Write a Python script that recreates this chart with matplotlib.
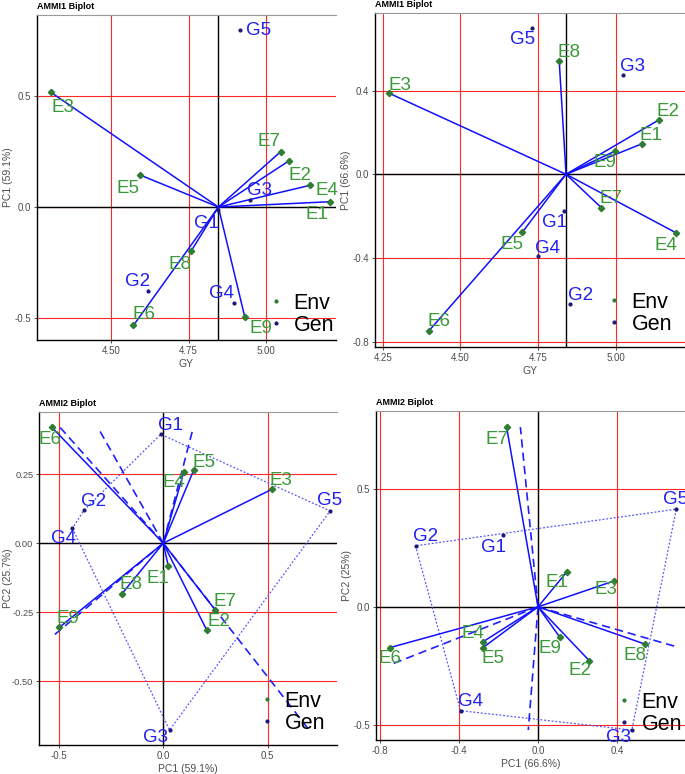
import matplotlib
matplotlib.use("Agg")
import matplotlib.pyplot as plt
import numpy as np
from matplotlib.lines import Line2D

plt.rcParams['font.family'] = ['Liberation Sans', 'DejaVu Sans']
plt.rcParams['axes.unicode_minus'] = False

# ---- data ----
env_names = ['E1', 'E2', 'E3', 'E4', 'E5', 'E6', 'E7', 'E8', 'E9']
gen_names = ['G1', 'G2', 'G3', 'G4', 'G5']

# dataset A (PC1 59.1%, PC2 25.7%)
gy_mean_a = 4.846
gy_a_env = [5.204, 5.072, 4.307, 5.140, 4.594, 4.573, 5.046, 4.758, 4.931]
gy_a_gen = [4.845, 4.620, 4.947, 4.896, 4.917]
pc1_a_env = [0.024, 0.208, 0.519, 0.098, 0.145, -0.535, 0.250, -0.200, -0.498]
pc1_a_gen = [-0.012, -0.380, 0.030, -0.436, 0.800]
pc2_a_env = [-0.083, -0.315, 0.195, 0.257, 0.264, 0.421, -0.243, -0.185, -0.305]
pc2_a_gen = [0.395, 0.120, -0.678, 0.054, 0.117]

# dataset B (PC1 66.6%, PC2 25%)
gy_mean_b = 4.840
gy_b_env = [5.085, 5.139, 4.271, 5.193, 4.699, 4.399, 4.953, 4.818, 4.998]
gy_b_gen = [4.835, 4.852, 5.023, 4.751, 4.731]
pc1_b_env = [0.146, 0.260, 0.387, -0.279, -0.278, -0.748, -0.159, 0.543, 0.111]
pc1_b_gen = [-0.177, -0.620, 0.475, -0.392, 0.700]
pc2_b_env = [0.148, -0.228, 0.110, -0.148, -0.172, -0.172, 0.760, -0.158, -0.129]
pc2_b_gen = [0.303, 0.258, -0.521, -0.439, 0.413]

# label offsets in pixels (dx, dy up)
off1_env = [(-13, -13), (11, -14), (12, -15), (17, -5), (-12, -14), (11, 11), (-12, 10), (-11, -13), (16, -11)]
off1_gen = [(-12, -14), (-11, 10), (10, 10), (-12, 10), (18, 0)]
off2_env = [(9, 8), (9, 8), (11, 8), (-10, -13), (-10, -12), (10, 9), (10, 9), (10, 8), (-10, -11)]
off2_gen = [(-10, -11), (11, 8), (10, 8), (9, 8), (-10, -12)]
off3_env = [(-10, -12), (12, 9), (9, 9), (-10, -10), (10, 8), (-2, -12), (10, 9), (9, 10), (9, 9)]
off3_gen = [(10, 9), (10, 9), (-14, -7), (-9, -10), (-1, 10)]
off4_env = [(-10, -11), (-9, -10), (-9, -9), (-10, 8), (10, -11), (0, -11), (-10, -12), (-10, -11), (-10, -11)]
off4_gen = [(-10, -12), (10, 9), (-13, -7), (10, 9), (-1, 10)]

ENV_C = '#2e7d32'
ENV_TXT = '#3a9a3a'
GEN_C = '#1a1a7a'
GEN_TXT = '#2020f0'
LINE_C = '#1010ff'

W, H = 685, 774
fig = plt.figure(figsize=(W / 100, H / 100), dpi=100)


def add_ax(l, t, r, b):
    return fig.add_axes([l / W, 1 - b / H, (r - l) / W, (b - t) / H])


def style(ax, title, xlabel, ylabel, xlim, ylim, xt, yt, xfmt, yfmt, cx, ypad=1):
    ax.set_xlim(*xlim)
    ax.set_ylim(*ylim)
    ax.set_xticks(xt)
    ax.set_yticks(yt)
    ax.set_xticklabels([xfmt % v for v in xt])
    ax.set_yticklabels([yfmt % v for v in yt])
    ax.grid(True, color='red', lw=0.8, alpha=0.85)
    ax.set_axisbelow(True)
    ax.axvline(cx, color='black', lw=1.0, zorder=1)
    ax.axhline(0, color='black', lw=1.0, zorder=1)
    ax.set_title(title, loc='left', fontsize=6.5, fontweight='bold', pad=4)
    ax.set_xlabel(xlabel, fontsize=7.5, color='#4d4d4d', labelpad=2)
    ax.set_ylabel(ylabel, fontsize=7.5, color='#4d4d4d', labelpad=ypad)
    ax.tick_params(length=2.5, width=0.6, color='#333333', labelsize=7,
                   labelcolor='#4d4d4d', pad=2)
    ax.spines['right'].set_visible(False)
    ax.spines['top'].set_color('#999999')
    for s in ['left', 'bottom']:
        ax.spines[s].set_color('black')
        ax.spines[s].set_linewidth(1.0)


def points(ax, ex, ey, gx, gy, oe, og, cx, cy):
    for x, y in zip(ex, ey):
        ax.plot([cx, x], [cy, y], color=LINE_C, lw=1.1, zorder=2)
    ax.plot(ex, ey, ls='', marker='D', ms=3.2, color=ENV_C, zorder=4)
    ax.plot(gx, gy, ls='', marker='o', ms=2.0, color=GEN_C, zorder=4)
    for n, x, y, o in zip(env_names, ex, ey, oe):
        ax.annotate(n, (x, y), xytext=o, textcoords='offset pixels', ha='center',
                    va='center', fontsize=13.5, color=ENV_TXT, zorder=5)
    for n, x, y, o in zip(gen_names, gx, gy, og):
        ax.annotate(n, (x, y), xytext=o, textcoords='offset pixels', ha='center',
                    va='center', fontsize=13.5, color=GEN_TXT, zorder=5)


def legend(ax, rx, by):
    h = [Line2D([], [], ls='', marker='o', ms=2.0, color=ENV_C),
         Line2D([], [], ls='', marker='o', ms=2.0, color=GEN_C)]
    ax.legend(h, ['Env', 'Gen'], loc='lower right', frameon=False, fontsize=15.5,
              handlelength=0.6, handletextpad=0.5, labelspacing=0.05, borderpad=0,
              borderaxespad=0, bbox_to_anchor=(rx / W, 1 - by / H),
              bbox_transform=fig.transFigure)


def hull(px, py):
    pts = sorted(zip(px, py))

    def cross(o, a, b):
        return (a[0] - o[0]) * (b[1] - o[1]) - (a[1] - o[1]) * (b[0] - o[0])
    lower, upper = [], []
    for p in pts:
        while len(lower) >= 2 and cross(lower[-2], lower[-1], p) <= 0:
            lower.pop()
        lower.append(p)
    for p in reversed(pts):
        while len(upper) >= 2 and cross(upper[-2], upper[-1], p) <= 0:
            upper.pop()
        upper.append(p)
    return lower[:-1] + upper[:-1]


def polygon(ax, ex, ey, gx, gy):
    hp = hull(gx, gy)
    closed = hp + [hp[0]]
    ax.plot([p[0] for p in closed], [p[1] for p in closed], color='#5555ff',
            lw=0.9, ls=(0, (1.5, 1.5)), zorder=2)
    allx = list(ex) + list(gx)
    ally = list(ey) + list(gy)
    x0, x1, y0, y1 = min(allx), max(allx), min(ally), max(ally)
    # rays from the origin perpendicular to each side of the polygon
    for a, b in zip(closed[:-1], closed[1:]):
        a = np.array(a)
        b = np.array(b)
        d = b - a
        f = a + np.dot(-a, d) / np.dot(d, d) * d
        ts = []
        if f[0] > 0:
            ts.append(x1 / f[0])
        if f[0] < 0:
            ts.append(x0 / f[0])
        if f[1] > 0:
            ts.append(y1 / f[1])
        if f[1] < 0:
            ts.append(y0 / f[1])
        t = min(ts)
        ax.plot([0, f[0] * t], [0, f[1] * t], color='#2020ff', lw=1.2,
                ls=(0, (5, 3)), zorder=2)


# ---- panel 1: AMMI1, dataset A ----
ax1 = add_ax(37, 15, 336, 340)
style(ax1, 'AMMI1 Biplot', 'GY', 'PC1 (59.1%)', (4.263, 5.224), (-0.601, 0.868),
      [4.50, 4.75, 5.00], [-0.5, 0.0, 0.5], '%.2f', '%.1f', gy_mean_a)
points(ax1, gy_a_env, pc1_a_env, gy_a_gen, pc1_a_gen, off1_env, off1_gen, gy_mean_a, 0)
legend(ax1, 334, 336)

# ---- panel 2: AMMI1, dataset B ----
ax2 = add_ax(375, 13, 685, 347)
style(ax2, 'AMMI1 Biplot', 'GY', 'PC1 (66.6%)', (4.225, 5.223), (-0.826, 0.771),
      [4.25, 4.50, 4.75, 5.00], [-0.8, -0.4, 0.0, 0.4], '%.2f', '%.1f', gy_mean_b)
points(ax2, gy_b_env, pc1_b_env, gy_b_gen, pc1_b_gen, off2_env, off2_gen, gy_mean_b, 0)
legend(ax2, 672, 335)

# ---- panel 3: AMMI2, dataset A ----
ax3 = add_ax(39, 412, 337, 745)
style(ax3, 'AMMI2 Biplot', 'PC1 (59.1%)', 'PC2 (25.7%)', (-0.596, 0.833), (-0.732, 0.476),
      [-0.5, 0.0, 0.5], [-0.5, -0.25, 0.0, 0.25], '%.1f', '%.2f', 0, ypad=-1)
ax3.tick_params(axis='y', labelsize=6.7, pad=1.5)
polygon(ax3, pc1_a_env, pc2_a_env, pc1_a_gen, pc2_a_gen)
points(ax3, pc1_a_env, pc2_a_env, pc1_a_gen, pc2_a_gen, off3_env, off3_gen, 0, 0)
legend(ax3, 325, 734)

# ---- panel 4: AMMI2, dataset B ----
ax4 = add_ax(376, 411, 685, 740)
style(ax4, 'AMMI2 Biplot', 'PC1 (66.6%)', 'PC2 (25%)', (-0.820, 0.744), (-0.563, 0.828),
      [-0.8, -0.4, 0.0, 0.4], [-0.5, 0.0, 0.5], '%.1f', '%.1f', 0)
polygon(ax4, pc1_b_env, pc2_b_env, pc1_b_gen, pc2_b_gen)
points(ax4, pc1_b_env, pc2_b_env, pc1_b_gen, pc2_b_gen, off4_env, off4_gen, 0, 0)
legend(ax4, 682, 735)

fig.savefig('out.png', dpi=100)
